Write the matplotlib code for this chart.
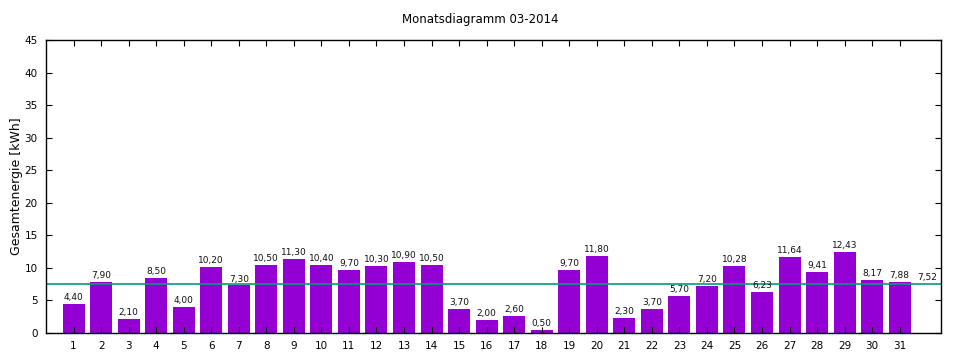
import matplotlib
matplotlib.use("Agg")
from matplotlib import pyplot as plt
import numpy as np

days = list(range(1, 32))
energy = [4.40, 7.90, 2.10, 8.50, 4.00, 10.20, 7.30, 10.50, 11.30, 10.40,
          9.70, 10.30, 10.90, 10.50, 3.70, 2.00, 2.60, 0.50, 9.70, 11.80,
          2.30, 3.70, 5.70, 7.20, 10.28, 6.23, 11.64, 9.41, 12.43, 8.17, 7.88]
average = 7.52
yticks = [0, 5, 10, 15, 20, 25, 30, 35, 40, 45]

def de(v):
    return ("%.2f" % v).replace(".", ",")

fig = plt.figure(figsize=(9.6, 3.6), dpi=100)
ax = fig.add_axes([46/960, 27/360, 895/960, 293/360])

ax.bar(days, energy, width=0.8, color="#9400d3")
for d, v in zip(days, energy):
    ax.text(d, v + 0.3, de(v), ha="center", va="bottom", fontsize=6.5, color="#111111")

ax.axhline(average, color="#009b7d", lw=1.2)
ax.text(32, average + 0.3, de(average), ha="center", va="bottom", fontsize=6.5, color="#111111")

ax.set_xlim(0, 32.5)
ax.set_ylim(0, 45)
ax.set_xticks(days)
ax.set_yticks(yticks)
ax.tick_params(direction="in", top=True, right=True, labelsize=7.5, length=4, pad=6)
for s in ax.spines.values():
    s.set_linewidth(1.0)

ax.set_ylabel("Gesamtenergie [kWh]", fontsize=9, labelpad=1)
fig.text(0.5, 1 - 19/360, "Monatsdiagramm 03-2014", ha="center", va="center", fontsize=8.5)

fig.savefig("out.png", dpi=100)
